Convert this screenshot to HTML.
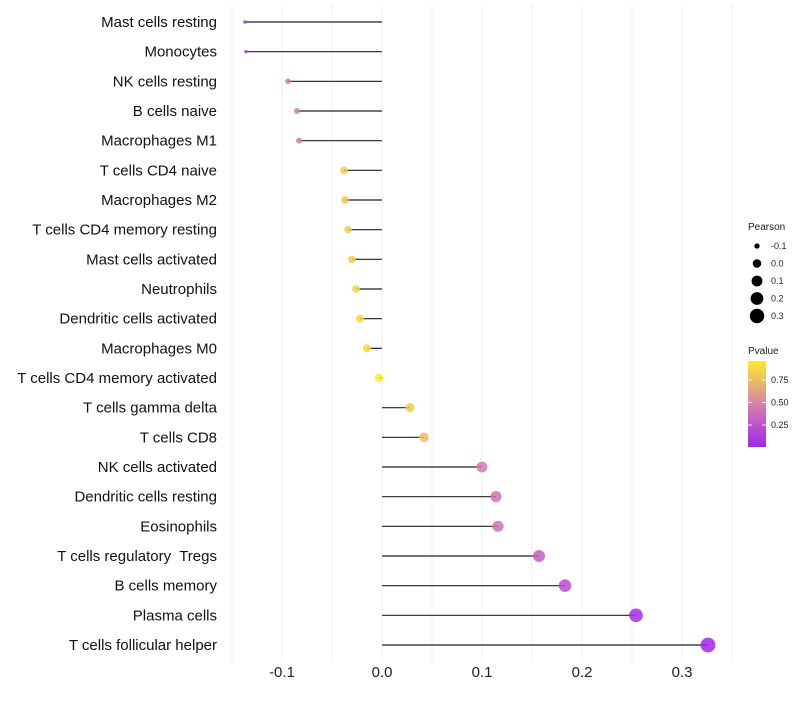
<!DOCTYPE html>
<html><head><meta charset="utf-8"><style>
body{margin:0;background:#fff;font-family:"Liberation Sans",sans-serif}
svg text{font-family:"Liberation Sans",sans-serif;white-space:pre}
</style></head><body>
<svg id="c" width="800" height="700" xmlns="http://www.w3.org/2000/svg"></svg>
<script>
const categories=["Mast cells resting","Monocytes","NK cells resting","B cells naive","Macrophages M1","T cells CD4 naive","Macrophages M2","T cells CD4 memory resting","Mast cells activated","Neutrophils","Dendritic cells activated","Macrophages M0","T cells CD4 memory activated","T cells gamma delta","T cells CD8","NK cells activated","Dendritic cells resting","Eosinophils","T cells regulatory  Tregs","B cells memory","Plasma cells","T cells follicular helper"];
const pearson=[-0.137,-0.136,-0.094,-0.085,-0.083,-0.038,-0.037,-0.034,-0.030,-0.026,-0.022,-0.015,-0.003,0.028,0.042,0.100,0.114,0.116,0.157,0.183,0.254,0.326];
const pvalue=[0.12,0.13,0.45,0.48,0.48,0.8,0.8,0.82,0.84,0.85,0.86,0.88,0.97,0.82,0.76,0.45,0.42,0.42,0.32,0.22,0.06,0.03];
const xTicks=[-0.1,0,0.1,0.2,0.3];
const xTickLabels=["-0.1","0.0","0.1","0.2","0.3"];
const sizeLegend=[-0.1,0,0.1,0.2,0.3];
const sizeLegendLabels=["-0.1","0.0","0.1","0.2","0.3"];
const colorLegend=[0.25,0.5,0.75];
const colorLegendLabels=["0.25","0.50","0.75"];

const svg=document.getElementById('c');
const NS="http://www.w3.org/2000/svg";
function mk(t,a,p){const e=document.createElementNS(NS,t);for(const k in a)e.setAttribute(k,a[k]);(p||svg).appendChild(e);return e;}
const x=v=>382+v*1000;
const y=i=>22+i*(645-22)/(categories.length-1);
const r=v=>Math.sqrt(Math.max(2,3+112*(v+0.137)));
function col(p){
  const stops=[[0,[160,32,240]],[0.5,[215,130,170]],[1,[255,245,30]]];
  let a=stops[0],b=stops[1];if(p>0.5){a=stops[1];b=stops[2];}
  const t=(p-a[0])/(b[0]-a[0]);
  const c=a[1].map((v,k)=>Math.round(v+(b[1][k]-v)*t));
  return `rgb(${c[0]},${c[1]},${c[2]})`;
}
for(let g=-0.15;g<=0.351;g+=0.05){
  const gl=mk('line',{x1:x(g),x2:x(g),y1:5,y2:662,stroke:'#f0f0f0','stroke-width':1});
  
  
}
xTicks.forEach((t,i)=>{
  const tl=mk('text',{x:x(t),y:677,'text-anchor':'middle','font-size':15,fill:'#222'});
  tl.textContent=xTickLabels[i];
  
  
});
categories.forEach((c,i)=>{
  const lb=mk('text',{x:217,y:y(i)+5,'text-anchor':'end','font-size':15,fill:'#111'});
  lb.textContent=c;
  
  
  const ln=mk('line',{x1:x(0),x2:x(pearson[i]),y1:y(i),y2:y(i),stroke:'#222','stroke-width':1.2});
  
  
  const pt=mk('circle',{cx:x(pearson[i]),cy:y(i),r:r(pearson[i]),fill:col(pvalue[i]),'fill-opacity':0.85});
  
  
});
const st=mk('text',{x:748,y:230,'font-size':10,fill:'#222'});st.textContent="Pearson";


sizeLegend.forEach((v,i)=>{
  const cy=246+i*17.5;
  const cc=mk('circle',{cx:757,cy:cy,r:r(v),fill:'#000'});
  
  
  const tt=mk('text',{x:771,y:cy+3,'font-size':9,fill:'#222'});tt.textContent=sizeLegendLabels[i];
  
  
});
const ct=mk('text',{x:748,y:354,'font-size':10,fill:'#222'});ct.textContent="Pvalue";


const defs=mk('defs',{});
const lg=mk('linearGradient',{id:'g',x1:0,y1:1,x2:0,y2:0},defs);
mk('stop',{offset:'0',  'stop-color':col(0.02)},lg);
mk('stop',{offset:'0.5','stop-color':col(0.5)},lg);
mk('stop',{offset:'1',  'stop-color':col(0.96)},lg);
const cb=mk('rect',{x:748,y:361,width:18,height:86,fill:'url(#g)'});


colorLegend.forEach((v,i)=>{
  const cy=447.5-v*90;
  mk('line',{x1:748,x2:752,y1:cy,y2:cy,stroke:'#fff','stroke-width':0.8});
  mk('line',{x1:762,x2:766,y1:cy,y2:cy,stroke:'#fff','stroke-width':0.8});
  const tt=mk('text',{x:771,y:cy+3,'font-size':9,fill:'#222'});tt.textContent=colorLegendLabels[i];
  
  
});
</script>
</body></html>
